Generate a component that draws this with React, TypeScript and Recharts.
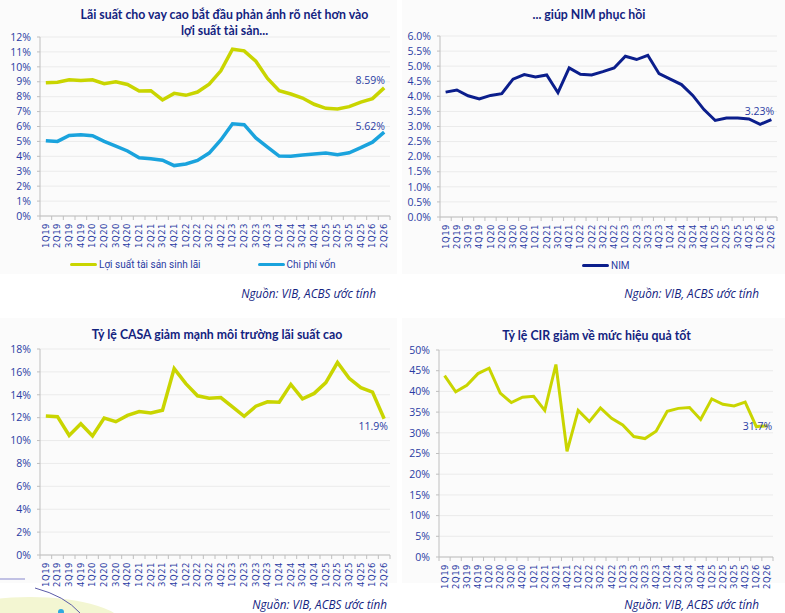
import React from 'react';
import { LineChart, Line, XAxis, YAxis, CartesianGrid, Legend, LabelList } from 'recharts';

const quarters = ['1Q19','2Q19','3Q19','4Q19','1Q20','2Q20','3Q20','4Q20','1Q21','2Q21','3Q21','4Q21','1Q22','2Q22','3Q22','4Q22','1Q23','2Q23','3Q23','4Q23','1Q24','2Q24','3Q24','4Q24','1Q25','2Q25','3Q25','4Q25','1Q26','2Q26'];

const assetYield = [8.93, 8.97, 9.13, 9.09, 9.13, 8.87, 9.0, 8.82, 8.38, 8.4, 7.78, 8.22, 8.09, 8.31, 8.84, 9.73, 11.18, 11.07, 10.38, 9.22, 8.4, 8.18, 7.91, 7.49, 7.22, 7.18, 7.33, 7.64, 7.87, 8.59];
const costOfFunds = [5.05, 5.0, 5.4, 5.45, 5.38, 5.0, 4.69, 4.36, 3.91, 3.84, 3.74, 3.38, 3.49, 3.73, 4.22, 5.1, 6.18, 6.12, 5.23, 4.62, 4.02, 4.0, 4.09, 4.16, 4.22, 4.11, 4.24, 4.58, 4.95, 5.62];
const nim = [4.14, 4.21, 4.02, 3.91, 4.03, 4.09, 4.57, 4.72, 4.64, 4.71, 4.12, 4.94, 4.73, 4.71, 4.82, 4.94, 5.33, 5.22, 5.36, 4.75, 4.57, 4.39, 4.03, 3.56, 3.2, 3.28, 3.28, 3.25, 3.07, 3.23];
const casa = [12.15, 12.09, 10.44, 11.47, 10.41, 11.97, 11.65, 12.2, 12.53, 12.41, 12.65, 16.29, 14.97, 13.91, 13.7, 13.76, 12.94, 12.12, 13.0, 13.38, 13.35, 14.91, 13.65, 14.12, 15.06, 16.82, 15.44, 14.62, 14.24, 11.9];
const cir = [43.8, 39.9, 41.5, 44.3, 45.6, 39.6, 37.3, 38.6, 38.8, 35.4, 46.5, 25.5, 35.4, 32.7, 36.0, 33.5, 31.9, 29.1, 28.6, 30.4, 35.2, 35.9, 36.1, 33.2, 38.2, 36.9, 36.5, 37.4, 31.5, 31.7];

const yieldTicks = [0, 1, 2, 3, 4, 5, 6, 7, 8, 9, 10, 11, 12];
const nimTicks = [0, 0.5, 1, 1.5, 2, 2.5, 3, 3.5, 4, 4.5, 5, 5.5, 6];
const casaTicks = [0, 2, 4, 6, 8, 10, 12, 14, 16, 18];
const cirTicks = [0, 5, 10, 15, 20, 25, 30, 35, 40, 45, 50];

const titles = {
  yieldLine1: 'Lãi suất cho vay cao bắt đầu phản ánh rõ nét hơn vào',
  yieldLine2: 'lợi suất tài sản...',
  nim: '... giúp NIM phục hồi',
  casa: 'Tỷ lệ CASA giảm mạnh môi trường lãi suất cao',
  cir: 'Tỷ lệ CIR giảm về mức hiệu quả tốt',
};
const sourceText = 'Nguồn: VIB, ACBS ước tính';
const seriesNames = { yield: 'Lợi suất tài sản sinh lãi', cost: 'Chi phí vốn', nim: 'NIM', casa: 'CASA', cir: 'CIR' };

const yieldData = quarters.map((q, i) => ({ q, yield: assetYield[i], cost: costOfFunds[i] }));
const nimData = quarters.map((q, i) => ({ q, nim: nim[i] }));
const casaData = quarters.map((q, i) => ({ q, casa: casa[i] }));
const cirData = quarters.map((q, i) => ({ q, cir: cir[i] }));

const LIME = '#C9D500';
const BLUE = '#1AA3DD';
const NAVY = '#0B1E8C';
const TITLE = '#13237F';
const TEXT = '#2A3CA3';
const AXIS = '#BFBFBF';
const GRID = '#EBEBEB';
const PANEL = '#FBFBFB';
const N = quarters.length;

const makeXTick = (step: number) => (props: any) => {
  const { x, y, payload, index } = props;
  const bx = x - step / 2;
  return (
    <g>
      <line x1={bx} x2={bx} y1={y} y2={y + 4} stroke={AXIS} strokeWidth={1} />
      {index === N - 1 ? <line x1={x + step / 2} x2={x + step / 2} y1={y} y2={y + 4} stroke={AXIS} strokeWidth={1} /> : null}
      <text
        transform={`translate(${x},${y + 7}) rotate(-90)`}
        textAnchor="end"
        dy="0.35em"
        fill={TEXT}
        fontSize={8.5}
        letterSpacing={0.5}
        fontFamily="DejaVu Sans"
      >
        {payload.value}
      </text>
    </g>
  );
};

const endLabel = (dx: number, dy: number, fmt: (v: number) => string) => (props: any) => {
  const { x, y, value, index } = props;
  if (index !== N - 1) return null;
  return (
    <text x={x + dx} y={y + dy} textAnchor="middle" dominantBaseline="central" fill={TEXT} fontSize={10.5} fontFamily="Open Sans">
      {fmt(value)}
    </text>
  );
};

const LegendBox = (items: { name: string; color: string }[], gap: number, startX: number) => () => (
  <div style={{ display: 'flex', justifyContent: 'flex-start', alignItems: 'center', gap, height: 24, paddingLeft: startX, fontFamily: 'Roboto', fontSize: 10, color: TEXT }}>
    {items.map((it) => (
      <div key={it.name} style={{ display: 'flex', alignItems: 'center' }}>
        <div style={{ width: 27, height: 3, background: it.color, borderRadius: 1.5, marginRight: 2 }} />
        <span>{it.name}</span>
      </div>
    ))}
  </div>
);

const yTickStyle = { fill: TEXT, fontSize: 10.5, fontFamily: 'Open Sans' };

const Title = ({ center, top, lines }: { center: number; top: number; lines: string[] }) => (
  <div style={{ position: 'absolute', left: center - 200, top, width: 400, textAlign: 'center', fontFamily: 'Lato', fontWeight: 700, fontSize: 12.3, lineHeight: '16px', color: TITLE }}>
    {lines.map((l) => (
      <div key={l}>{l}</div>
    ))}
  </div>
);

const Source = ({ right, top }: { right: number; top: number }) => (
  <div style={{ position: 'absolute', left: right - 300, top, width: 300, textAlign: 'right', fontFamily: 'Open Sans', fontStyle: 'italic', fontSize: 11.7, lineHeight: '14px', color: TITLE }}>
    {sourceText}
  </div>
);

export default function App() {
  return (
    <div style={{ position: 'absolute', left: 0, top: 0, width: 785, height: 613, background: '#ffffff', overflow: 'hidden' }}>
      <div style={{ position: 'absolute', left: 0, top: 0, width: 397, height: 274, background: PANEL }} />
      <div style={{ position: 'absolute', left: 402, top: 0, width: 383, height: 274, background: PANEL }} />
      <div style={{ position: 'absolute', left: 0, top: 318, width: 397, height: 265, background: PANEL }} />
      <div style={{ position: 'absolute', left: 402, top: 318, width: 383, height: 265, background: PANEL }} />
      <svg style={{ position: 'absolute', left: 0, top: 0 }} width={785} height={613}>
        <ellipse cx={30} cy={627} rx={95} ry={30} fill="#F3F6D2" />
        <line x1={0} y1={579} x2={25} y2={579} stroke="#9A9AD6" strokeWidth={1.2} />
        <path d="M35,588 Q65,596 80,613" fill="none" stroke="#5B5BA8" strokeWidth={1} />
        <circle cx={61} cy={612} r={3} fill="#2FA8E0" />
      </svg>

      <Title center={224.5} top={7} lines={[titles.yieldLine1, titles.yieldLine2]} />
      <div style={{ position: 'absolute', left: 0, top: 0 }}>
        <LineChart width={400} height={298} data={yieldData} margin={{ top: 37, right: 10, left: 0, bottom: 22 }}>
          <CartesianGrid vertical={false} stroke={GRID} />
          <XAxis dataKey="q" interval={0} tickSize={0} tickMargin={0} height={36} stroke={AXIS} padding={{ left: 350 / 60, right: 350 / 60 }} tick={makeXTick(350 / 30)} />
          <YAxis type="number" domain={[0, 12]} ticks={yieldTicks} interval={0} width={40} stroke={AXIS} tickSize={3} tickMargin={6} tick={yTickStyle} tickFormatter={(v: number) => `${v}%`} />
          <Legend verticalAlign="bottom" content={LegendBox([{ name: seriesNames.yield, color: LIME }, { name: seriesNames.cost, color: BLUE }], 57, 70)} />
          <Line type="linear" dataKey="yield" name={seriesNames.yield} stroke={LIME} strokeWidth={3.5} dot={false} isAnimationActive={false}>
            <LabelList dataKey="yield" content={endLabel(-14, -8, (v) => `${v.toFixed(2)}%`)} />
          </Line>
          <Line type="linear" dataKey="cost" name={seriesNames.cost} stroke={BLUE} strokeWidth={3.5} dot={false} isAnimationActive={false}>
            <LabelList dataKey="cost" content={endLabel(-14, -6, (v) => `${v.toFixed(2)}%`)} />
          </Line>
        </LineChart>
      </div>
      <Source right={376} top={286} />

      <Title center={589} top={7} lines={[titles.nim]} />
      <div style={{ position: 'absolute', left: 400, top: 0 }}>
        <LineChart width={385} height={299} data={nimData} margin={{ top: 36, right: 8, left: 0, bottom: 22 }}>
          <CartesianGrid vertical={false} stroke={GRID} />
          <XAxis dataKey="q" interval={0} tickSize={0} tickMargin={0} height={36} stroke={AXIS} padding={{ left: 337 / 60, right: 337 / 60 }} tick={makeXTick(337 / 30)} />
          <YAxis type="number" domain={[0, 6]} ticks={nimTicks} interval={0} width={40} stroke={AXIS} tickSize={3} tickMargin={6} tick={yTickStyle} tickFormatter={(v: number) => `${v.toFixed(1)}%`} />
          <Legend verticalAlign="bottom" content={LegendBox([{ name: seriesNames.nim, color: NAVY }], 0, 182)} />
          <Line type="linear" dataKey="nim" name={seriesNames.nim} stroke={NAVY} strokeWidth={3} dot={false} isAnimationActive={false}>
            <LabelList dataKey="nim" content={endLabel(-12, -9, (v) => `${v.toFixed(2)}%`)} />
          </Line>
        </LineChart>
      </div>
      <Source right={759} top={286} />

      <Title center={217} top={327} lines={[titles.casa]} />
      <div style={{ position: 'absolute', left: 0, top: 320 }}>
        <LineChart width={400} height={271} data={casaData} margin={{ top: 29, right: 10, left: 0, bottom: 0 }}>
          <CartesianGrid vertical={false} stroke={GRID} />
          <XAxis dataKey="q" interval={0} tickSize={0} tickMargin={0} height={36} stroke={AXIS} padding={{ left: 350 / 60, right: 350 / 60 }} tick={makeXTick(350 / 30)} />
          <YAxis type="number" domain={[0, 18]} ticks={casaTicks} interval={0} width={40} stroke={AXIS} tickSize={3} tickMargin={6} tick={yTickStyle} tickFormatter={(v: number) => `${v}%`} />
          <Line type="linear" dataKey="casa" name={seriesNames.casa} stroke={LIME} strokeWidth={3.5} dot={false} isAnimationActive={false}>
            <LabelList dataKey="casa" content={endLabel(-11, 7, (v) => `${v.toFixed(1)}%`)} />
          </Line>
        </LineChart>
      </div>
      <Source right={387} top={597} />

      <Title center={596.5} top={328} lines={[titles.cir]} />
      <div style={{ position: 'absolute', left: 400, top: 320 }}>
        <LineChart width={385} height={273} data={cirData} margin={{ top: 30, right: 12, left: 0, bottom: 0 }}>
          <CartesianGrid vertical={false} stroke={GRID} />
          <XAxis dataKey="q" interval={0} tickSize={0} tickMargin={0} height={36} stroke={AXIS} padding={{ left: 334 / 60, right: 334 / 60 }} tick={makeXTick(334 / 30)} />
          <YAxis type="number" domain={[0, 50]} ticks={cirTicks} interval={0} width={39} stroke={AXIS} tickSize={3} tickMargin={6} tick={yTickStyle} tickFormatter={(v: number) => `${v}%`} />
          <Line type="linear" dataKey="cir" name={seriesNames.cir} stroke={LIME} strokeWidth={3} dot={false} isAnimationActive={false}>
            <LabelList dataKey="cir" content={endLabel(-10, 0, (v) => `${v.toFixed(1)}%`)} />
          </Line>
        </LineChart>
      </div>
      <Source right={759} top={597} />
    </div>
  );
}
